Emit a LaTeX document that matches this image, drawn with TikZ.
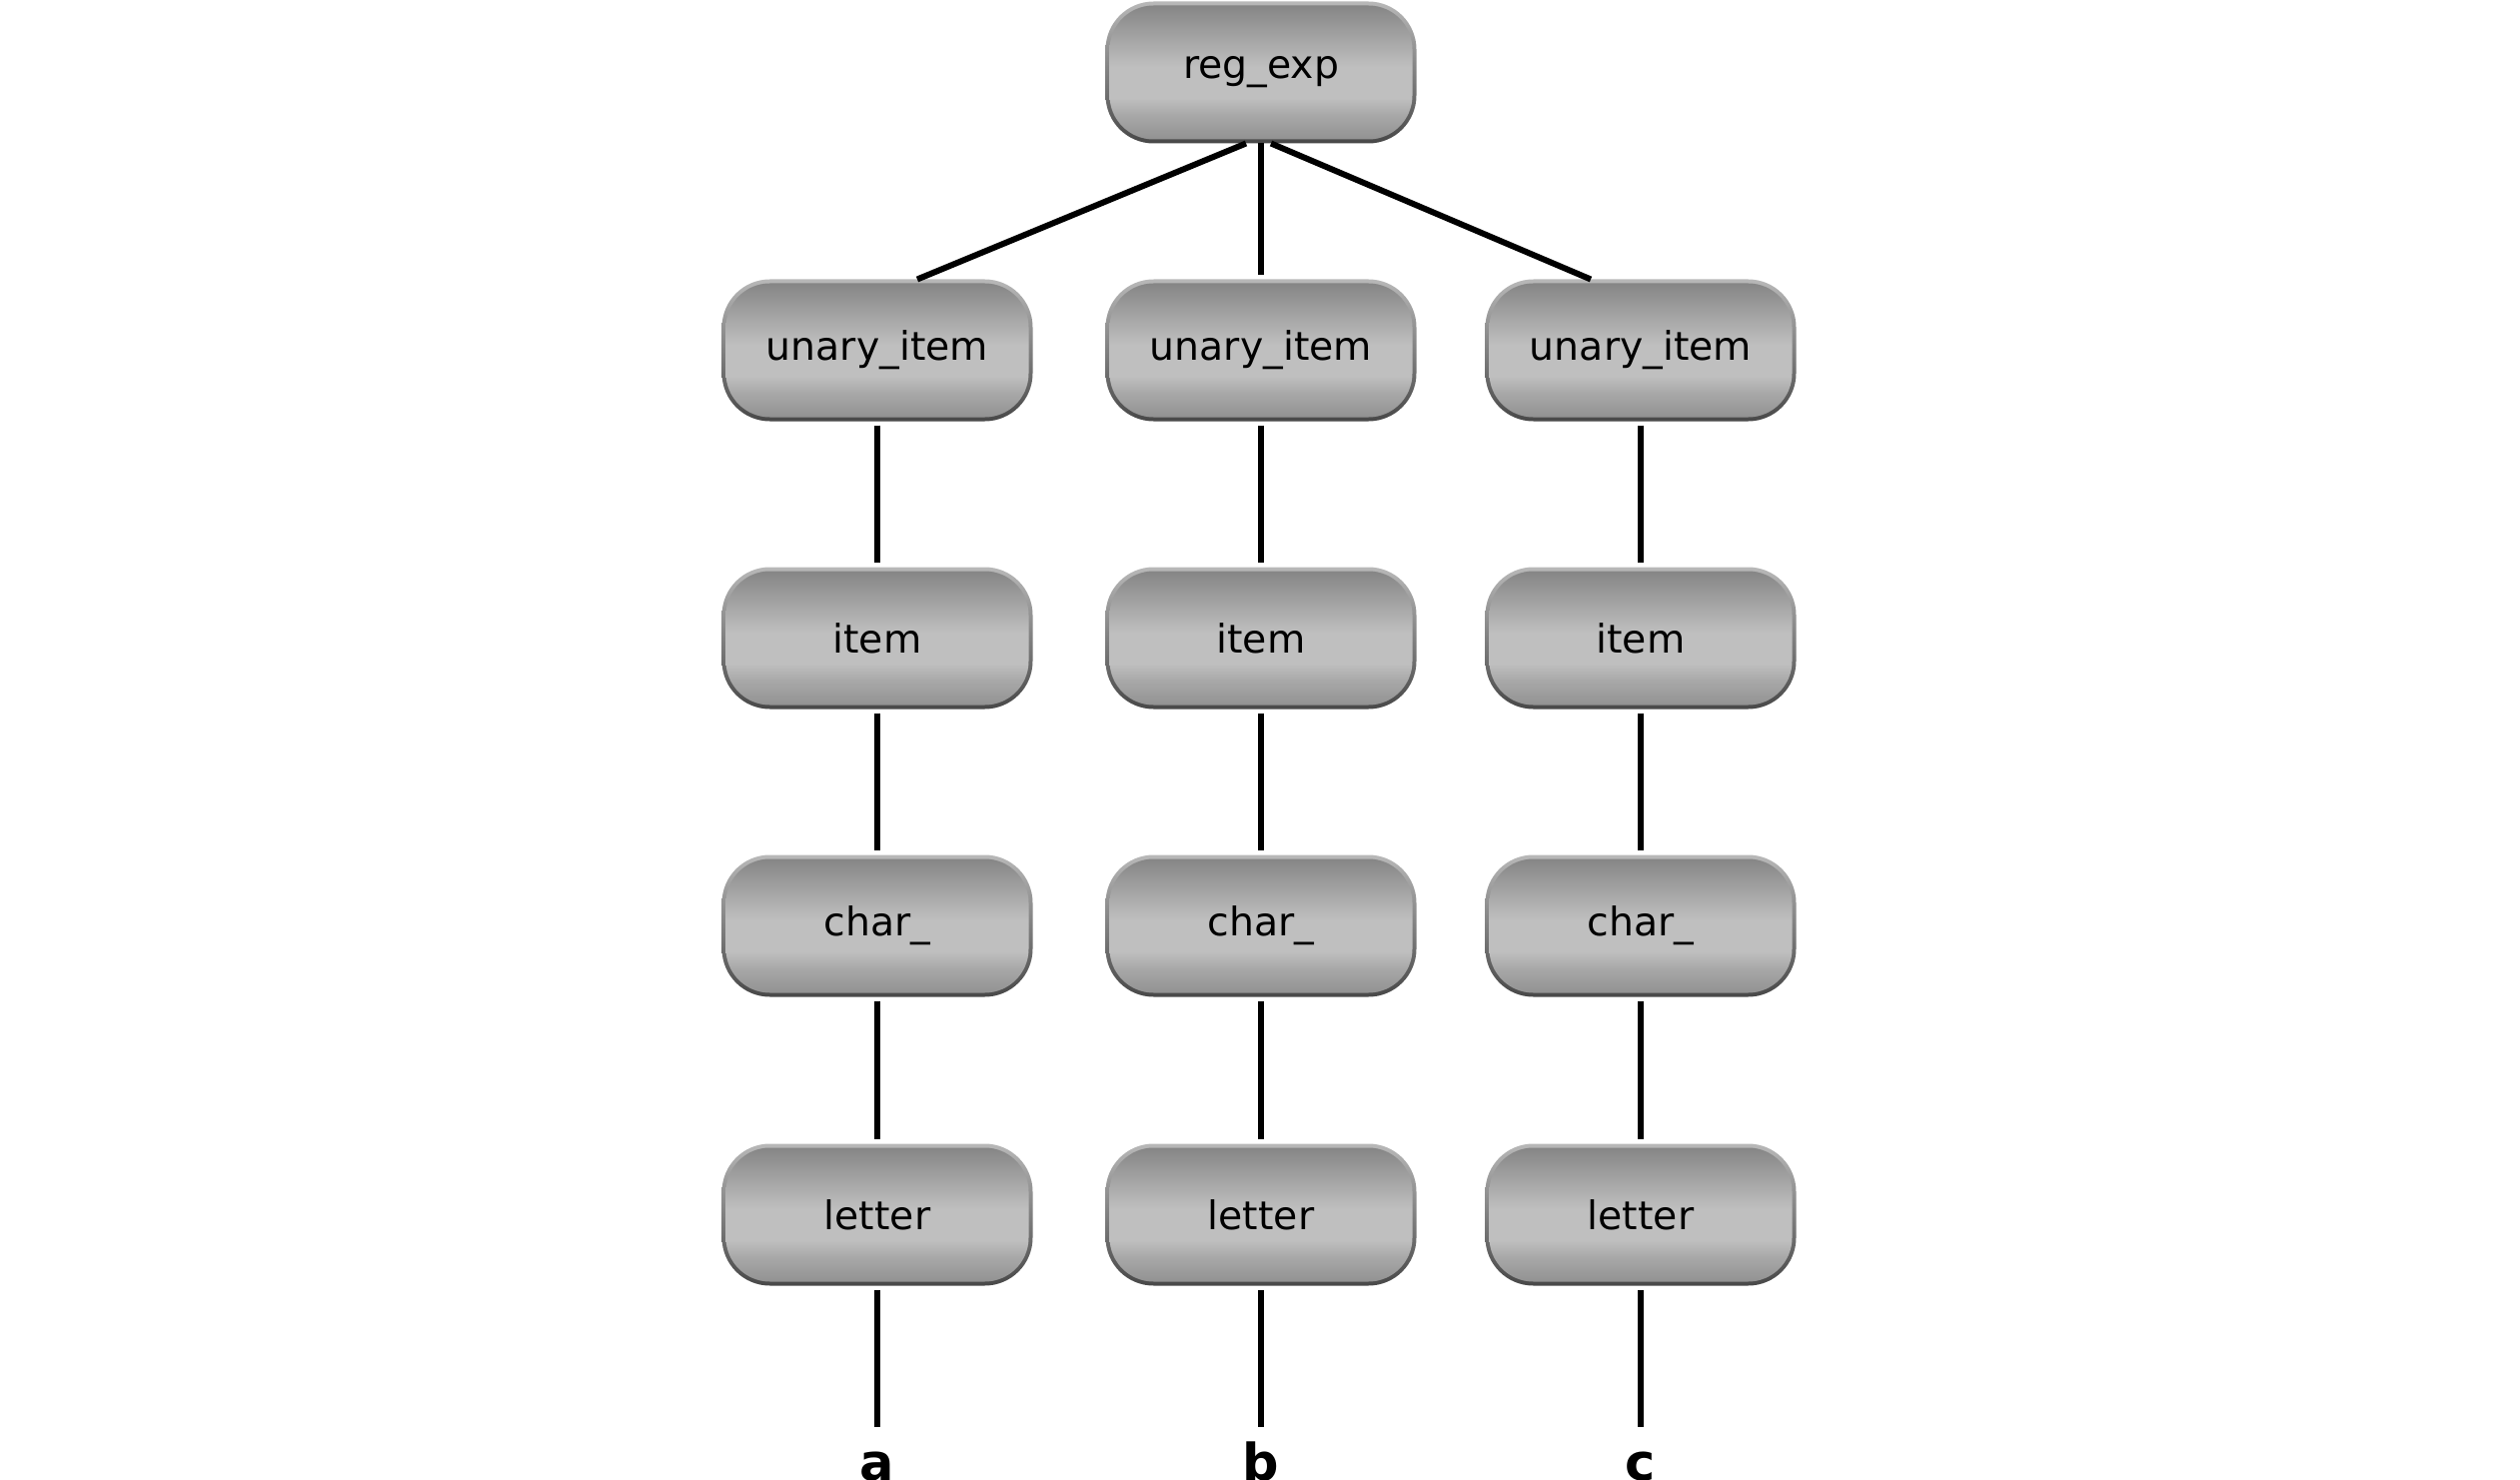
\documentclass[tikz,border=0pt]{standalone}
\usepackage{fontspec}
\setmainfont{DejaVu Sans}
\usepackage{xcolor}
\usetikzlibrary{positioning}
\definecolor{btntop}{HTML}{828282}
\definecolor{btnlight}{HTML}{BFBFBF}
\definecolor{btnmid}{HTML}{A8A8A8}
\definecolor{btnbottom}{HTML}{8E8E8E}
\definecolor{rimtop}{HTML}{B8B8B8}
\definecolor{rimbottom}{HTML}{484848}
\pgfdeclareverticalshading{btnbody}{100bp}{color(0bp)=(btnbottom); color(25bp)=(btnbottom); color(35bp)=(btnmid); color(41bp)=(btnlight); color(52bp)=(btnlight); color(75bp)=(btntop); color(100bp)=(btntop)}
\pgfdeclareverticalshading{btnrim}{100bp}{color(0bp)=(rimbottom); color(25bp)=(rimbottom); color(75bp)=(rimtop); color(100bp)=(rimtop)}
\tikzset{
  tnode/.style={
    rounded corners=0.48cm, shade, shading=btnrim,
    minimum width=3.11cm, minimum height=1.42cm,
    inner sep=0pt, outer sep=0pt, text=black,
    font=\fontsize{11.2pt}{13pt}\selectfont,
    path picture={\shade[shading=btnbody, rounded corners=0.44cm]
      ([shift={(0.04cm,0.04cm)}]path picture bounding box.south west) rectangle
      ([shift={(-0.04cm,-0.04cm)}]path picture bounding box.north east);}
  },
  leaf/.style={
    font=\fontsize{14.5pt}{17pt}\selectfont\bfseries,
    inner sep=6pt, outer sep=0pt, text height=8pt, text depth=0pt
  },
  link/.style={line width=0.06cm, black},
  vlink/.style={link, shorten <=1.2pt, shorten >=1.2pt}
}

\begin{document}
\begin{tikzpicture}[node distance=1.46cm]
    \useasboundingbox (0,0) rectangle (25.22,-14.81);

    % Root
    \node[tnode] (r) at (12.62,-0.725) {reg\_exp};

    % Unary items
    \node[tnode, below=1.36cm of r] (u2) {unary\_item};
    \node[tnode, left=0.73cm of u2] (u1) {unary\_item};
    \node[tnode, right=0.69cm of u2] (u3) {unary\_item};

    % Items
    \node[tnode, below=of u1] (i1) {item};
    \node[tnode, below=of u2] (i2) {item};
    \node[tnode, below=of u3] (i3) {item};

    % Chars
    \node[tnode, below=of i1] (c1) {char\_};
    \node[tnode, below=of i2] (c2) {char\_};
    \node[tnode, below=of i3] (c3) {char\_};

    % Letters
    \node[tnode, below=1.47cm of c1] (l1) {letter};
    \node[tnode, below=1.47cm of c2] (l2) {letter};
    \node[tnode, below=1.47cm of c3] (l3) {letter};

    % Leaves
    \node[leaf, below=1.46cm of l1] (a) {a};
    \node[leaf, below=1.46cm of l2] (b) {b};
    \node[leaf, below=1.46cm of l3] (c) {c};

    % Fan-out from root
    \draw[link] ([xshift=-0.15cm]r.south) -- ([xshift=0.4cm]u1.north);
    \draw[vlink, shorten <=0pt] (r.south) -- (u2.north);
    \draw[link] ([xshift=0.1cm]r.south) -- ([xshift=-0.5cm]u3.north);

    % Chains
    \draw[vlink] (u1) -- (i1);
    \draw[vlink] (i1) -- (c1);
    \draw[vlink] (c1) -- (l1);
    \draw[vlink] (l1) -- (a);
    \draw[vlink] (u2) -- (i2);
    \draw[vlink] (i2) -- (c2);
    \draw[vlink] (c2) -- (l2);
    \draw[vlink] (l2) -- (b);
    \draw[vlink] (u3) -- (i3);
    \draw[vlink] (i3) -- (c3);
    \draw[vlink] (c3) -- (l3);
    \draw[vlink] (l3) -- (c);
\end{tikzpicture}
\end{document}
